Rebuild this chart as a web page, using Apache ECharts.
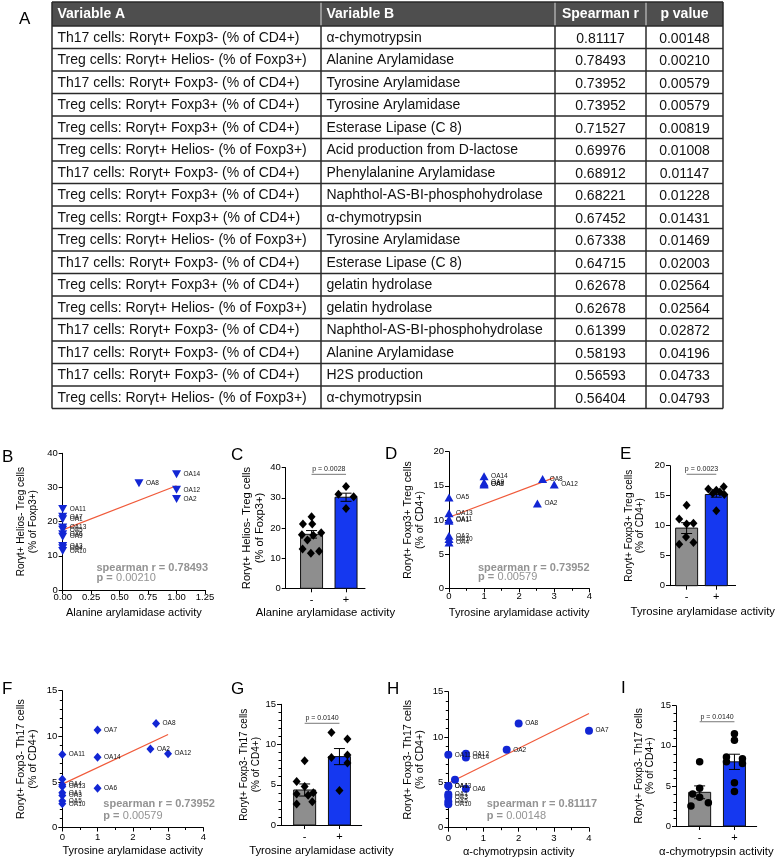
<!DOCTYPE html>
<html><head><meta charset="utf-8">
<script src="https://cdn.jsdelivr.net/npm/echarts@6/dist/echarts.min.js"></script>
<style>html,body{margin:0;padding:0;background:#fff}#c{width:777px;height:860px}</style>
</head><body><div id="c"></div>
<script>
// ---------------- DATA ----------------
// Panel A table
const tableHeaders = ['Variable A', 'Variable B', 'Spearman r', 'p value'];
const tableVarA = [
  'Th17 cells: Rorγt+ Foxp3- (% of CD4+)',
  'Treg cells: Rorγt+ Helios- (% of Foxp3+)',
  'Th17 cells: Rorγt+ Foxp3- (% of CD4+)',
  'Treg cells: Rorγt+ Foxp3+ (% of CD4+)',
  'Treg cells: Rorγt+ Foxp3+ (% of CD4+)',
  'Treg cells: Rorγt+ Helios- (% of Foxp3+)',
  'Th17 cells: Rorγt+ Foxp3- (% of CD4+)',
  'Treg cells: Rorγt+ Foxp3+ (% of CD4+)',
  'Treg cells: Rorgt+ Foxp3+ (% of CD4+)',
  'Treg cells: Rorγt+ Helios- (% of Foxp3+)',
  'Th17 cells: Rorγt+ Foxp3- (% of CD4+)',
  'Treg cells: Rorγt+ Foxp3+ (% of CD4+)',
  'Treg cells: Rorγt+ Helios- (% of Foxp3+)',
  'Th17 cells: Rorγt+ Foxp3- (% of CD4+)',
  'Th17 cells: Rorγt+ Foxp3- (% of CD4+)',
  'Th17 cells: Rorγt+ Foxp3- (% of CD4+)',
  'Treg cells: Rorγt+ Helios- (% of Foxp3+)'
];
const tableVarB = [
  'α-chymotrypsin', 'Alanine Arylamidase', 'Tyrosine Arylamidase', 'Tyrosine Arylamidase',
  'Esterase Lipase (C 8)', 'Acid production from D-lactose', 'Phenylalanine Arylamidase',
  'Naphthol-AS-BI-phosphohydrolase', 'α-chymotrypsin', 'Tyrosine Arylamidase',
  'Esterase Lipase (C 8)', 'gelatin hydrolase', 'gelatin hydrolase',
  'Naphthol-AS-BI-phosphohydrolase', 'Alanine Arylamidase', 'H2S production', 'α-chymotrypsin'
];
const tableSpearman = ['0.81117','0.78493','0.73952','0.73952','0.71527','0.69976','0.68912','0.68221',
  '0.67452','0.67338','0.64715','0.62678','0.62678','0.61399','0.58193','0.56593','0.56404'];
const tableP = ['0.00148','0.00210','0.00579','0.00579','0.00819','0.01008','0.01147','0.01228',
  '0.01431','0.01469','0.02003','0.02564','0.02564','0.02872','0.04196','0.04733','0.04793'];

// Panel B: Alanine arylamidase activity vs Rorγt+ Helios- Treg (% of Foxp3+)
const bNames = ['OA14','OA8','OA12','OA2','OA11','OA7','OA1','OA13','OA5','OA6','OA9','OA3','OA4','OA10'];
const bX = [1, 0.67, 1, 1, 0, 0, 0, 0, 0, 0, 0, 0, 0, 0];
const bY = [33.9, 31.2, 29.3, 26.6, 23.7, 21.4, 20.7, 18.3, 17.6, 16.3, 15.6, 12.9, 12.2, 11.4];
const bReg = [[0, 17.6], [1, 30.5]];

// Panel C: bar (mean ± SEM) by alanine arylamidase activity
const cMeans = [17.9, 30.2];
const cSem = [1.25, 1.35];
const cMinus = [23.7, 21.3, 21.3, 18.4, 17.8, 17.6, 16.0, 13.0, 12.3, 11.6];
const cPlus = [33.8, 31.2, 30.4, 26.5];
const cP = 'p = 0.0028';

// Panel D: Tyrosine arylamidase activity vs Rorγt+ Foxp3+ Treg (% of CD4+)
const dNames = ['OA14','OA9','OA7','OA6','OA8','OA12','OA2','OA5','OA13','OA11','OA1','OA3','OA10','OA4'];
const dX = [1, 1, 1, 1, 2.67, 3, 2.52, 0, 0, 0, 0, 0, 0, 0];
const dY = [16.4, 15.5, 15.3, 15.2, 16.0, 15.2, 12.4, 13.3, 11.0, 10.1, 9.9, 7.7, 7.2, 6.7];
const dReg = [[0, 10.4], [3, 16.2]];

// Panel E
const eMeans = [9.6, 15.2];
const eSem = [0.9, 0.45];
const eMinus = [13.4, 11.1, 10.4, 10.3, 8.1, 7.2, 6.9];
const ePlus = [16.5, 16.1, 15.9, 15.6, 15.4, 15.2, 12.5];
const eP = 'p = 0.0023';

// Panel F: Tyrosine arylamidase activity vs Roryt+ Foxp3- Th17 (% of CD4+)
const fNames = ['OA8','OA7','OA2','OA12','OA14','OA6','OA11','OA9','OA4','OA13','OA1','OA3','OA5','OA10'];
const fX = [2.66, 1, 2.5, 3, 1, 1, 0, 0, 0, 0, 0, 0, 0, 0];
const fY = [11.4, 10.7, 8.6, 8.1, 7.7, 4.3, 8.0, 5.3, 4.7, 4.5, 3.8, 3.5, 2.9, 2.6];
const fReg = [[0, 4.76], [3, 10.2]];

// Panel G
const gMeans = [4.35, 8.5];
const gSem = [0.75, 1.0];
const gMinus = [8.0, 5.4, 4.8, 4.0, 3.85, 3.7, 2.9, 2.6];
const gPlus = [11.5, 10.7, 8.7, 8.4, 7.7, 4.3];
const gP = 'p = 0.0140';

// Panel H: α-chymotrypsin activity vs Roryt+ Foxp3- Th17 (% of CD4+)
const hNames = ['OA8','OA7','OA2','OA12','OA14','OA6','OA9','OA11','OA4','OA13','OA1','OA3','OA5','OA10'];
const hX = [2, 4, 1.66, 0.5, 0.5, 0.5, 0.19, 0, 0, 0, 0, 0, 0, 0];
const hY = [11.5, 10.7, 8.6, 8.15, 7.75, 4.3, 5.3, 8.05, 4.6, 4.6, 3.7, 3.4, 2.9, 2.6];
const hReg = [[0, 4.9], [4, 12.6]];

// Panel I
const iMeans = [4.2, 8.0];
const iSem = [0.8, 0.95];
const iMinus = [8.0, 4.7, 4.0, 3.6, 2.9, 2.5];
const iPlus = [11.5, 10.7, 8.6, 8.4, 8.0, 7.8, 5.4, 4.3];
const iP = 'p = 0.0140';

// ---------------- STYLE / LAYOUT ----------------
const FONT = '"Liberation Sans", Arial, Helvetica, sans-serif';
const BLUE_PT = '#1226D4';
const BLUE_BAR = '#1538F0';
const GRAY_BAR = '#8E8E8E';
const RED = '#F05A3A';
const STAT_GRAY = '#939393';

const grid = [], xAxis = [], yAxis = [], series = [], graphic = [];

function axisBase() {
  return {
    axisLine: {show: true, onZero: false, lineStyle: {color: '#000', width: 1}},
    axisTick: {show: true, length: 4, lineStyle: {color: '#000', width: 1}},
    splitLine: {show: false},
    axisLabel: {color: '#000', fontSize: 9.5, fontFamily: FONT}
  };
}
function minor(n) {
  return {show: true, splitNumber: n, length: 2.5, lineStyle: {color: '#000', width: 1}};
}
function yAxisFor(gi, c) {
  const ya = axisBase();
  const fs = c.yNameSize || 10;
  Object.assign(ya, {
    type: 'value', gridIndex: gi, min: 0, max: c.yMax, interval: c.yInt,
    name: c.yName, nameLocation: 'middle', nameGap: c.yNameGap,
    nameTextStyle: {fontSize: fs, lineHeight: fs * 1.15, color: '#000', align: 'center', fontFamily: FONT}
  });
  ya.axisLabel.margin = 5;
  if (c.yMinor) ya.minorTick = minor(c.yMinor);
  return ya;
}

function scatterPanel(c) {
  const gi = grid.length;
  grid.push({left: c.box[0], top: c.box[1], width: c.box[2] - c.box[0], height: c.box[3] - c.box[1]});
  const xa = axisBase();
  Object.assign(xa, {
    type: 'value', gridIndex: gi, min: 0, max: c.xMax, interval: c.xInt,
    name: c.xName, nameLocation: 'middle', nameGap: c.xNameGap,
    nameTextStyle: {fontSize: 11, color: '#000', fontFamily: FONT}
  });
  xa.axisLabel.margin = c.xLabelMargin;
  xa.axisLabel.formatter = c.xFmt;
  if (c.xMinor) xa.minorTick = minor(c.xMinor);
  xAxis.push(xa);
  yAxis.push(yAxisFor(gi, c));
  series.push({
    type: 'line', xAxisIndex: gi, yAxisIndex: gi, data: c.reg, symbol: 'none', silent: true,
    lineStyle: {color: RED, width: 1.2}, z: 2
  });
  series.push({
    type: 'scatter', xAxisIndex: gi, yAxisIndex: gi, symbol: c.symbol, symbolSize: c.symbolSize,
    symbolRotate: c.symbolRotate || 0, itemStyle: {color: BLUE_PT, opacity: 1}, z: 3,
    label: {show: true, position: 'right', distance: 2.5, fontSize: 6.5, color: '#111', fontFamily: FONT, formatter: '{b}'},
    labelLayout: {hideOverlap: false},
    data: c.xs.map((x, i) => {
      const o = {value: [x, c.ys[i]], name: c.names[i]};
      if ((c.hidden || []).includes(c.names[i])) o.label = {show: false};
      if (c.below && c.below.includes(c.names[i])) o.label = {offset: [-3, 6]};
      return o;
    })
  });
  graphic.push({type: 'text', x: c.stat[0], y: c.stat[1], z: 10,
    style: {text: c.statR, font: 'bold 11px ' + FONT, fill: STAT_GRAY, textVerticalAlign: 'middle'}});
  graphic.push({type: 'text', x: c.stat[0], y: c.stat[2], z: 10,
    style: {text: '{b|p =} {n|' + c.statP + '}', fill: STAT_GRAY, textVerticalAlign: 'middle',
      rich: {b: {font: 'bold 11px ' + FONT, fill: STAT_GRAY}, n: {font: '11px ' + FONT, fill: STAT_GRAY}}}});
}

function barPanel(c) {
  const gi = grid.length;
  grid.push({left: c.box[0], top: c.box[1], width: c.box[2] - c.box[0], height: c.box[3] - c.box[1]});
  const pos = c.pos;
  const xa = axisBase();
  Object.assign(xa, {
    type: 'value', gridIndex: gi, min: 0, max: c.xMax,
    name: c.xName, nameLocation: 'middle', nameGap: c.xNameGap,
    nameTextStyle: {fontSize: 11.3, color: '#000', fontFamily: FONT}
  });
  xa.axisTick.customValues = pos;
  xa.axisLabel.customValues = pos;
  xa.axisLabel.fontSize = 11;
  xa.axisLabel.margin = 6;
  xa.axisLabel.formatter = v => (Math.abs(v - pos[0]) < 1e-6 ? '-' : '+');
  xAxis.push(xa);
  yAxis.push(yAxisFor(gi, c));
  const barW = 22, cap = 5.5;
  series.push({
    type: 'custom', xAxisIndex: gi, yAxisIndex: gi, silent: true, z: 2,
    data: c.means.map((m, i) => [pos[i], m, c.sems[i], i]),
    renderItem: (params, api) => {
      const x = api.value(0), m = api.value(1), s = api.value(2), k = api.value(3);
      const base = api.coord([x, 0]), top = api.coord([x, m]);
      const et = api.coord([x, m + s]), eb = api.coord([x, m - s]);
      return {type: 'group', children: [
        {type: 'rect', shape: {x: base[0] - barW / 2, y: top[1], width: barW, height: base[1] - top[1]},
          style: {fill: k === 0 ? GRAY_BAR : BLUE_BAR, stroke: '#111', lineWidth: 1}},
        {type: 'line', shape: {x1: top[0], y1: et[1], x2: top[0], y2: eb[1]}, style: {stroke: '#000', lineWidth: 1}},
        {type: 'line', shape: {x1: top[0] - cap, y1: et[1], x2: top[0] + cap, y2: et[1]}, style: {stroke: '#000', lineWidth: 1}},
        {type: 'line', shape: {x1: top[0] - cap, y1: eb[1], x2: top[0] + cap, y2: eb[1]}, style: {stroke: '#000', lineWidth: 1}}
      ]};
    }
  });
  const pts = c.minus.map((v, i) => [pos[0] + c.jm[i], v]).concat(c.plus.map((v, i) => [pos[1] + c.jp[i], v]));
  series.push({
    type: 'scatter', xAxisIndex: gi, yAxisIndex: gi, symbol: c.symbol, symbolSize: c.symbolSize,
    itemStyle: {color: '#000', opacity: 1}, z: 3, data: pts, silent: true
  });
  series.push({
    type: 'custom', xAxisIndex: gi, yAxisIndex: gi, silent: true, z: 4,
    data: [[pos[0], pos[1], c.pY]],
    renderItem: (params, api) => {
      const a = api.coord([api.value(0), api.value(2)]), b = api.coord([api.value(1), api.value(2)]);
      return {type: 'group', children: [
        {type: 'line', shape: {x1: a[0], y1: a[1], x2: b[0], y2: b[1]}, style: {stroke: '#777', lineWidth: 1}},
        {type: 'text', x: (a[0] + b[0]) / 2, y: a[1] - 1.5,
          style: {text: c.pText, fill: '#222', font: '7px ' + FONT, textAlign: 'center', textVerticalAlign: 'bottom'}}
      ]};
    }
  });
}

const yB = 'Rorγt+ Helios- Treg cells\n(% of Foxp3+)';
const yD = 'Roryt+ Foxp3+ Treg cells\n(% of CD4+)';
const yF = 'Roryt+ Foxp3- Th17 cells\n(% of CD4+)';
const f2 = v => v.toFixed(2);
const f0 = v => String(v);

scatterPanel({box: [62.7, 453.3, 205, 590], xMax: 1.25, xInt: 0.25, xFmt: f2, xLabelMargin: 2,
  xName: 'Alanine arylamidase activity', xNameGap: 17,
  yMax: 40, yInt: 10, yName: yB, yNameGap: 24, yNameSize: 10,
  xs: bX, ys: bY, names: bNames, reg: bReg, symbol: 'triangle', symbolRotate: 180, symbolSize: [9, 8],
  stat: [96.5, 567.5, 577.5], statR: 'spearman r = 0.78493', statP: '0.00210'});
barPanel({box: [285.7, 467.7, 365, 588.3], xMax: 2.3, pos: [0.75, 1.75],
  xName: 'Alanine arylamidase activity', xNameGap: 19,
  yMax: 40, yInt: 10, yName: yB, yNameGap: 16, yNameSize: 11.2,
  means: cMeans, sems: cSem, minus: cMinus, plus: cPlus,
  jm: [0, -0.25, 0.02, 0.28, -0.28, 0.05, -0.12, -0.26, 0.22, -0.02], jp: [0, -0.22, 0.22, 0],
  symbol: 'diamond', symbolSize: [8, 9], pY: 37.8, pText: cP});
scatterPanel({box: [449, 451.7, 589.3, 588.3], xMax: 4, xInt: 1, xMinor: 2, xFmt: f0, xLabelMargin: 3,
  xName: 'Tyrosine arylamidase activity', xNameGap: 19,
  yMax: 20, yInt: 5, yName: yD, yNameGap: 23, yNameSize: 10.5,
  xs: dX, ys: dY, names: dNames, reg: dReg, symbol: 'triangle', symbolSize: [9, 8], below: ['OA4'],
  stat: [478, 567.5, 577], statR: 'spearman r = 0.73952', statP: '0.00579'});
barPanel({box: [670, 465.7, 746.7, 585.7], xMax: 2.21, pos: [0.56, 1.56],
  xName: 'Tyrosine arylamidase activity', xNameGap: 21,
  yMax: 20, yInt: 5, yName: yD, yNameGap: 24, yNameSize: 10,
  means: eMeans, sems: eSem, minus: eMinus, plus: ePlus,
  jm: [0, -0.25, 0.23, 0, -0.02, 0.23, -0.25], jp: [0.25, -0.27, 0, 0.12, -0.12, 0.27, 0],
  symbol: 'diamond', symbolSize: [8, 9], pY: 18.57, pText: eP});
scatterPanel({box: [62.3, 690.7, 203.3, 827.5], xMax: 4, xInt: 1, xMinor: 2, xFmt: f0, xLabelMargin: 5,
  xName: 'Tyrosine arylamidase activity', xNameGap: 17.5,
  yMax: 15, yInt: 5, yMinor: 5, yName: yF, yNameGap: 23, yNameSize: 10.7,
  xs: fX, ys: fY, names: fNames, reg: fReg, symbol: 'diamond', symbolSize: [8, 9], hidden: ['OA9'],
  stat: [103.3, 804.3, 816], statR: 'spearman r = 0.73952', statP: '0.00579'});
barPanel({box: [281, 704.3, 361.7, 825], xMax: 2.32, pos: [0.68, 1.68],
  xName: 'Tyrosine arylamidase activity', xNameGap: 20.5,
  yMax: 15, yInt: 5, yMinor: 5, yName: yF, yNameGap: 18.5, yNameSize: 10,
  means: gMeans, sems: gSem, minus: gMinus, plus: gPlus,
  jm: [0, -0.23, 0, 0.25, -0.23, 0.1, 0.22, -0.23], jp: [-0.23, 0.23, 0.23, -0.23, 0.23, 0],
  symbol: 'diamond', symbolSize: [8, 9], pY: 12.64, pText: gP});
scatterPanel({box: [448.3, 691.7, 589, 827.7], xMax: 4, xInt: 1, xMinor: 2, xFmt: f0, xLabelMargin: 6,
  xName: 'α-chymotrypsin activity', xNameGap: 19,
  yMax: 15, yInt: 5, yMinor: 5, yName: yF, yNameGap: 22, yNameSize: 10.7,
  xs: hX, ys: hY, names: hNames, reg: hReg, symbol: 'circle', symbolSize: 8, hidden: ['OA9'],
  stat: [486.7, 804.3, 816], statR: 'spearman r = 0.81117', statP: '0.00148'});
barPanel({box: [676, 705.7, 756.7, 826], xMax: 2.32, pos: [0.68, 1.68],
  xName: 'α-chymotrypsin activity', xNameGap: 20.5,
  yMax: 15, yInt: 5, yMinor: 5, yName: yF, yNameGap: 18, yNameSize: 10.3,
  means: iMeans, sems: iSem, minus: iMinus, plus: iPlus,
  jm: [0, 0, -0.2, 0, 0.25, -0.25], jp: [0, 0, -0.23, 0.23, -0.23, 0.23, 0, 0],
  symbol: 'circle', symbolSize: 7.5, pY: 13.0, pText: iP});

// Panel letters
[['A', 19, 19], ['B', 2, 457], ['C', 231, 455], ['D', 385, 454.5], ['E', 620, 454.5],
 ['F', 2, 689], ['G', 231, 689], ['H', 387, 689], ['I', 621, 688.5]].forEach(([t, x, y]) => {
  graphic.push({type: 'text', x: x, y: y, style: {text: t, font: '17px ' + FONT, fill: '#000', textVerticalAlign: 'middle'}});
});

// Table (panel A)
(function () {
  const cols = [52, 321, 555, 646, 723];
  const top = 2, headH = 24, rowH = 22.5;
  const nRows = tableVarA.length;
  const bottom = top + headH + rowH * nRows;
  graphic.push({type: 'rect', shape: {x: cols[0], y: top, width: cols[4] - cols[0], height: headH}, style: {fill: '#4E4E4E'}});
  for (let k = 1; k < 4; k++) {
    graphic.push({type: 'line', shape: {x1: cols[k], y1: top, x2: cols[k], y2: top + headH}, style: {stroke: '#d8d8d8', lineWidth: 1}});
  }
  for (let r = 0; r <= nRows; r++) {
    const y = top + headH + r * rowH;
    graphic.push({type: 'line', shape: {x1: cols[0], y1: y, x2: cols[4], y2: y}, style: {stroke: '#2a2a2a', lineWidth: 1.5}});
  }
  for (let k = 0; k < 5; k++) {
    const y1 = (k === 0 || k === 4) ? top : top + headH;
    graphic.push({type: 'line', shape: {x1: cols[k], y1: y1, x2: cols[k], y2: bottom}, style: {stroke: '#2a2a2a', lineWidth: 1.5}});
  }
  graphic.push({type: 'line', shape: {x1: cols[0], y1: top, x2: cols[4], y2: top}, style: {stroke: '#2a2a2a', lineWidth: 1.5}});
  const headFont = 'bold 14px ' + FONT, cellFont = '14px ' + FONT;
  tableHeaders.forEach((h, k) => {
    const centered = k >= 2;
    graphic.push({type: 'text', x: centered ? (cols[k] + cols[k + 1]) / 2 : cols[k] + 5.5, y: top + headH / 2 + 0.5,
      style: {text: h, font: headFont, fill: '#fff', textAlign: centered ? 'center' : 'left', textVerticalAlign: 'middle'}});
  });
  for (let r = 0; r < nRows; r++) {
    const y = top + headH + r * rowH + rowH / 2 + 0.5;
    const cells = [tableVarA[r], tableVarB[r], tableSpearman[r], tableP[r]];
    cells.forEach((t, k) => {
      const centered = k >= 2;
      graphic.push({type: 'text', x: centered ? (cols[k] + cols[k + 1]) / 2 : cols[k] + 5.5, y: centered ? y + 1 : y,
        style: {text: t, font: cellFont, fill: '#111', textAlign: centered ? 'center' : 'left', textVerticalAlign: 'middle'}});
    });
  }
})();

const chart = echarts.init(document.getElementById('c'), null, {renderer: 'canvas', width: 777, height: 860});
chart.setOption({
  backgroundColor: '#fff',
  animation: false,
  textStyle: {fontFamily: FONT},
  grid: grid, xAxis: xAxis, yAxis: yAxis, series: series, graphic: graphic
});
</script></body></html>
